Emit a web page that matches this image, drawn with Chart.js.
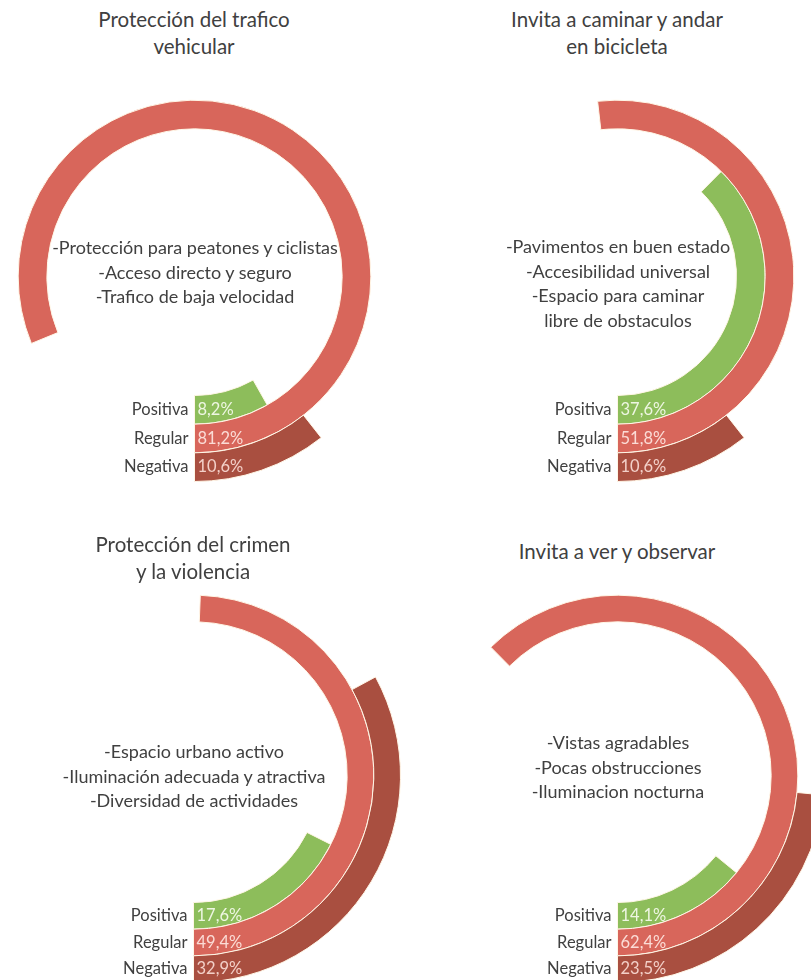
<!DOCTYPE html>
<html lang="es">
<head>
<meta charset="utf-8">
<title>Percepción del espacio</title>
<script src="https://cdn.jsdelivr.net/npm/chart.js@4.4.1/dist/chart.umd.min.js"></script>
<style>
  html, body { margin: 0; padding: 0; background: #fff; }
  body { width: 811px; height: 980px; position: relative; overflow: hidden; font-family: Lato, "Open Sans", sans-serif; color: #404040; }
  .ring { position: absolute; }
  .title, .note { position: absolute; text-align: center; white-space: nowrap; transform: translateX(-50%); }
  .title { font-size: 20.5px; line-height: 27px; }
  .note { font-size: 18px; line-height: 24.5px; }
</style>
</head>
<body>
<script>
// categories (outer ring drawn first by Chart.js, so order is reversed below)
const categories = ['Positiva', 'Regular', 'Negativa'];

const titles = [
    ['Protección del trafico', 'vehicular'],
    ['Invita a caminar y andar', 'en bicicleta'],
    ['Protección del crimen', 'y la violencia'],
    ['Invita a ver y observar']
];

const notes = [
    ['-Protección para peatones y ciclistas', '-Acceso directo y seguro', '-Trafico de baja velocidad'],
    ['-Pavimentos en buen estado', '-Accesibilidad universal', '-Espacio para caminar', 'libre de obstaculos'],
    ['-Espacio urbano activo', '-Iluminación adecuada y atractiva', '-Diversidad de actividades'],
    ['-Vistas agradables', '-Pocas obstrucciones', '-Iluminacion nocturna']
];

// percentages per panel
const positiva = [8.2, 37.6, 17.6, 14.1];
const regular  = [81.2, 51.8, 49.4, 62.4];
const negativa = [10.6, 10.6, 32.9, 23.5];

const colors = { Positiva: '#8dbd5b', Regular: '#d8665b', Negativa: '#a94f40' };
const textColors = { Positiva: '#eef6e2', Regular: '#fbdcd6', Negativa: '#f3d0c8' };

// panel placement: circle centre, outer radius, inner radius
const layout = [
    { cx: 194, cy: 276, r: 205, inner: 119, titleY: 6,   noteY: 235 },
    { cx: 617, cy: 276, r: 205, inner: 119, titleY: 6,   noteY: 234 },
    { cx: 193, cy: 775, r: 207, inner: 127, titleY: 531, noteY: 739 },
    { cx: 617, cy: 775, r: 207, inner: 127, titleY: 538, noteY: 730 }
];

function fmt(v) {
    return v.toFixed(1).replace('.', ',') + '%';
}

// writes category names left of the 6 o'clock start and the value inside each bar
const ringLabels = {
    id: 'ringLabels',
    afterDatasetsDraw(chart) {
        const ctx = chart.ctx;
        ctx.save();
        ctx.font = '16.5px Lato, "Open Sans", sans-serif';
        ctx.textBaseline = 'middle';
        chart.data.datasets.forEach((ds, i) => {
            const arc = chart.getDatasetMeta(i).data[1];
            const y = arc.y + (arc.innerRadius + arc.outerRadius) / 2;
            ctx.textAlign = 'right';
            ctx.fillStyle = '#404040';
            ctx.fillText(ds.label, arc.x - 6, y);
            ctx.textAlign = 'left';
            ctx.fillStyle = textColors[ds.label];
            ctx.fillText(fmt(ds.data[1]), arc.x + 3, y);
        });
        ctx.restore();
    }
};

function addText(cls, lines, x, y) {
    const div = document.createElement('div');
    div.className = cls;
    div.style.left = x + 'px';
    div.style.top = y + 'px';
    div.innerHTML = lines.join('<br>');
    document.body.appendChild(div);
}

layout.forEach((p, k) => {
    const size = p.r * 2 + 1;
    const canvas = document.createElement('canvas');
    canvas.className = 'ring';
    canvas.width = size;
    canvas.height = size;
    canvas.style.left = (p.cx - size / 2) + 'px';
    canvas.style.top = (p.cy - size / 2) + 'px';
    document.body.appendChild(canvas);

    const values = { Positiva: positiva[k], Regular: regular[k], Negativa: negativa[k] };
    // remainder first, so the coloured part runs counter-clockwise from the bottom
    const datasets = categories.slice().reverse().map(name => ({
        label: name,
        data: [100 - values[name], values[name]],
        backgroundColor: ['rgba(0,0,0,0)', colors[name]],
        borderColor: ['rgba(0,0,0,0)', '#fff6e6'],
        borderWidth: [0, 1],
        hoverBorderWidth: 0
    }));

    new Chart(canvas, {
        type: 'doughnut',
        data: { labels: ['', ''], datasets },
        options: {
            responsive: false,
            animation: false,
            events: [],
            rotation: 180,
            cutout: (p.inner / p.r * 100) + '%',
            layout: { padding: 0 },
            plugins: { legend: { display: false }, tooltip: { enabled: false } }
        },
        plugins: [ringLabels]
    });

    addText('title', titles[k], p.cx, p.titleY);
    addText('note', notes[k], p.cx + 1, p.noteY);
});
</script>
</body>
</html>
